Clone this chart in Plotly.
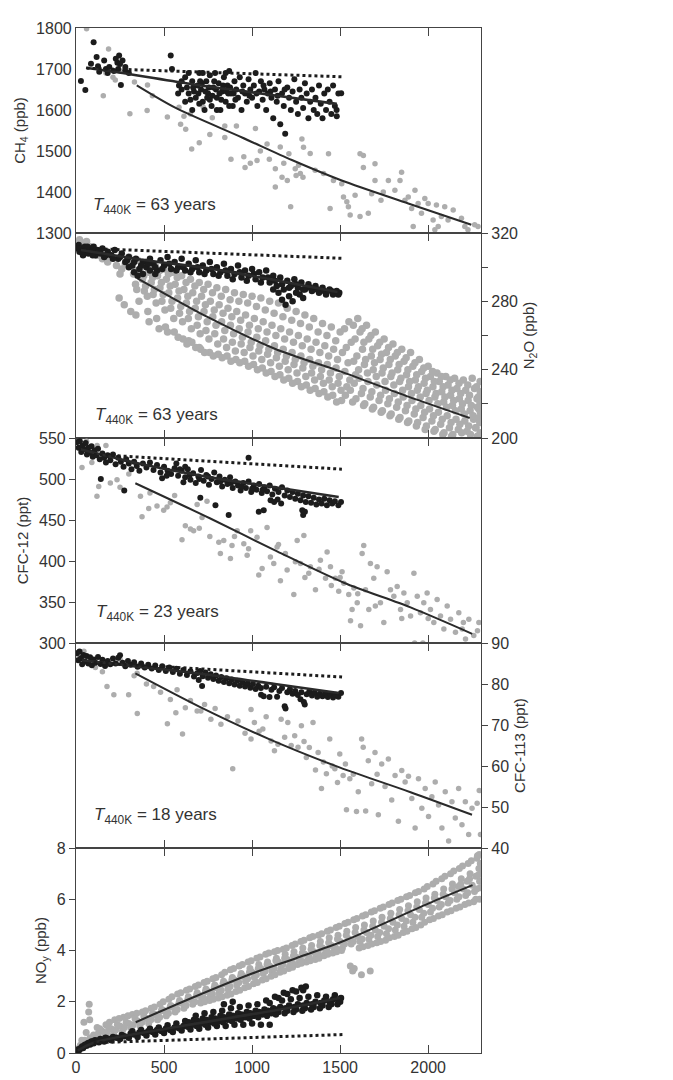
import plotly.graph_objects as go

# ---------------- DATA ----------------
X_RANGE = [0, 2300]
x_ticks = [0, 500, 1000, 1500, 2000]

# ---- CH4 panel ----
ch4_gray = [(60,1798),(185,1749),(155,1635),(223,1673),(306,1591),(332,1668),(404,1599),(434,1635),(406,1661),
            (519,1583),(585,1607),(594,1565),(623,1553),(657,1505),(613,1585),(723,1607),(774,1581),(845,1561),
            (845,1533),(911,1561),(953,1486),(1019,1555),(1028,1477),(1085,1517),(1132,1457),(1132,1412),(1160,1510),
            (1170,1436),(1200,1428),(1209,1493),(1219,1364),(1245,1457),(1264,1465),(1274,1445),(1283,1529),(1292,1509),
            (1289,1436),(1330,1494),(1358,1453),(1406,1445),(1434,1493),(1443,1360),(1462,1428),(1509,1420),(1519,1388),
            (1538,1376),(1547,1364),(1557,1344),(1585,1392),(1613,1493),(1632,1489),(1632,1460),(1613,1340),(1660,1348),
            (1679,1396),(1698,1469),(1698,1428),(1732,1380),(1745,1400),(1774,1428),(1811,1404),(1840,1428),(1849,1448),
            (1868,1380),(1887,1388),(1906,1360),(1925,1404),(1943,1372),(1962,1348),(1981,1384),(2000,1372),(2028,1332),
            (2047,1368),(2057,1316),(2075,1340),(2094,1364),(2113,1332),(2142,1356),(2189,1336),(2208,1316),(2226,1308),
            (2264,1320),(2283,1316),(1915,1316),(2038,1308),(170,1690),(210,1680),(250,1695),(1047,1500),(1098,1480),
            (990,1470),(960,1460),(880,1480),(760,1540),(700,1520),(650,1590),(1180,1470),(1250,1440)]
ch4_black = [(28,1671),(53,1649),(85,1713),(100,1765),(117,1729),(132,1693),(125,1707),(160,1721),(170,1700),(189,1705),
             (180,1690),(226,1725),(245,1733),(264,1721),(255,1661),(240,1700),(280,1695),(300,1690),(280,1705),(235,1715),
             (250,1712),(215,1695),(538,1733),(545,1700),(585,1660),(600,1650),(620,1680),(640,1640),(660,1670),(680,1630),
             (690,1660),(700,1690),(710,1650),(720,1620),(730,1600),(740,1670),(750,1640),(760,1685),(770,1610),(780,1655),
             (790,1690),(800,1630),(810,1665),(820,1600),(830,1645),(840,1680),(850,1620),(860,1660),(870,1695),(880,1640),
             (890,1610),(900,1670),(910,1650),(920,1630),(930,1680),(940,1600),(950,1660),(960,1640),(970,1620),(980,1675),
             (990,1650),(1000,1630),(1010,1660),(1020,1690),(1030,1610),(1040,1645),(1050,1670),(1060,1625),(1070,1650),
             (1080,1600),(1090,1640),(1100,1665),(1110,1630),(1120,1580),(1130,1650),(1140,1620),(1150,1670),(1160,1565),
             (1170,1640),(1180,1610),(1188,1542),(1200,1655),(1210,1630),(1220,1600),(1230,1645),(1240,1675),(1250,1620),
             (1260,1590),(1270,1650),(1280,1630),(1290,1605),(1300,1665),(1310,1640),(1320,1580),(1330,1620),(1340,1650),
             (1350,1600),(1360,1630),(1370,1590),(1380,1660),(1390,1615),(1400,1580),(1410,1640),(1420,1600),(1430,1650),
             (1440,1620),(1450,1590),(1460,1660),(1470,1610),(1480,1600),(1490,1640),(1506,1641),(1481,1585),(630,1655),
             (650,1625),(670,1645),(695,1640),(715,1665),(735,1645),(755,1655),(775,1635),(795,1650),(815,1640),(835,1660),
             (855,1645),(875,1655),(895,1640),(640,1690),(660,1600),(700,1615),(720,1690),(760,1625),(800,1600),(850,1690),
             (870,1610),(600,1670),(580,1640),(620,1620),(665,1655),(705,1670),(745,1630),(785,1670),(825,1625),(865,1640),
             (905,1625),(945,1645),(985,1635),(1025,1640),(1065,1660),(1105,1645),(1145,1635),(1185,1650)]
ch4_fit_gray_x = [345, 566, 943, 1226, 1509, 1887, 2245]
ch4_fit_gray_y = [1660, 1605, 1533, 1478, 1428, 1372, 1320]
ch4_fit_black_x = [57, 283, 660, 1038, 1481]
ch4_fit_black_y = [1703, 1689, 1663, 1641, 1615]
ch4_dot_x = [60, 1510]
ch4_dot_y = [1702, 1681]

# ---- N2O panel ----
n2o_gray = [(20,316),(40,314),(60,315),(80,312),(100,310),(120,307),(150,305),(180,303),(200,306),(230,301),(260,299),
            (280,302),(250,296),(245,282),(274,278),(311,274),(340,272),(415,268),(472,264),(640,257),(700,253),(520,262),
            (300,306),(313,301),(327,296),(338,290),
            (350,304),(363,298),(377,293),(388,286),(358,280),
            (400,303),(413,297),(427,291),(438,284),(408,274),
            (450,301),(463,295),(477,288),(488,280),(458,270),
            (500,299),(513,293),(527,285),(538,276),(508,265),
            (550,297),(563,290),(577,282),(588,273),(558,262),
            (600,295),(613,287),(627,279),(638,270),(608,258),
            (650,293),(663,285),(677,276),(688,266),(658,256),
            (700,291),(713,283),(727,274),(738,263),(708,252),
            (750,290),(763,280),(777,271),(788,261),(758,250),
            (800,288),(813,278),(827,268),(838,258),(808,249),
            (850,287),(863,276),(877,266),(888,256),(858,248),
            (900,285),(913,274),(927,264),(938,255),(908,246),
            (950,284),(963,272),(977,262),(988,253),(958,245),
            (1000,283),(1013,270),(1027,259),(1038,251),(1008,243),
            (1050,282),(1063,268),(1077,257),(1088,249),(1058,241),
            (1100,280),(1113,266),(1127,254),(1138,247),(1108,239),
            (1150,279),(1163,264),(1177,252),(1188,245),(1158,237),
            (1200,276),(1213,262),(1227,250),(1238,243),(1208,235),
            (1250,274),(1263,260),(1277,248),(1288,241),(1258,233),
            (1300,272),(1313,258),(1327,246),(1338,238),(1308,231),
            (1350,270),(1363,256),(1377,244),(1388,236),(1358,229),
            (1400,267),(1413,254),(1427,243),(1438,234),(1408,227),
            (1450,265),(1463,252),(1477,241),(1488,232),(1458,225),
            (1500,262),(1513,250),(1527,239),(1538,230),(1508,222),
            (1550,268),(1563,256),(1577,245),(1588,237),(1558,228),(1571,221),
            (1600,270),(1613,262),(1627,252),(1638,243),(1608,235),(1621,226),(1633,219),
            (1650,266),(1663,258),(1677,248),(1688,240),(1658,233),(1671,224),(1683,217),
            (1700,262),(1713,254),(1727,246),(1738,238),(1708,231),(1721,222),(1733,215),
            (1750,258),(1763,250),(1777,243),(1788,236),(1758,228),(1771,220),(1783,213),
            (1800,255),(1813,248),(1827,240),(1838,233),(1808,226),(1821,218),(1833,211),
            (1850,252),(1863,245),(1877,237),(1888,230),(1858,224),(1871,216),(1883,209),
            (1900,250),(1913,242),(1927,234),(1938,228),(1908,222),(1921,214),(1933,207),
            (1950,246),(1963,239),(1977,232),(1988,226),(1958,219),(1971,212),(1983,205),
            (2000,242),(2013,236),(2027,230),(2038,224),(2008,217),(2021,210),(2033,204),
            (2050,238),(2063,233),(2077,227),(2088,221),(2058,215),(2071,208),(2083,202),
            (2100,236),(2113,231),(2127,225),(2138,219),(2108,213),(2121,206),(2133,201),
            (2150,235),(2163,229),(2177,223),(2188,217),(2158,211),(2171,205),
            (2200,234),(2213,228),(2227,222),(2238,216),(2208,210),(2221,204),
            (2250,235),(2263,229),(2277,223),(2288,217),(2258,211),(2271,206),(2283,201),
            (2295,233),(2296,227),(2294,221),(2297,215),(2293,209),(2296,203),
            # in-between rows
            (325,303),(335,298),(345,287),
            (375,301),(385,295),(395,289),(405,283),
            (425,300),(435,294),(445,287),(455,279),
            (475,298),(485,291),(495,284),(505,275),
            (525,296),(535,289),(545,280),(555,270),
            (575,294),(585,286),(595,277),(605,268),(580,259),
            (625,291),(635,283),(645,274),(655,264),(630,255),
            (675,289),(685,280),(695,271),(705,261),(680,253),
            (725,287),(735,278),(745,268),(755,258),(730,250),
            (775,285),(785,275),(795,266),(805,255),(780,248),
            (825,283),(835,273),(845,263),(855,253),(830,247),
            (875,281),(885,271),(895,261),(905,251),(880,245),
            (925,280),(935,269),(945,259),(955,250),(930,244),
            (975,279),(985,266),(995,256),(1005,248),(980,242),
            (1025,277),(1035,264),(1045,254),(1055,246),(1030,240),
            (1075,275),(1085,262),(1095,252),(1105,244),(1080,238),
            (1125,273),(1135,260),(1145,250),(1155,242),(1130,236),
            (1175,271),(1185,258),(1195,248),(1205,240),(1180,234),
            (1225,269),(1235,256),(1245,246),(1255,238),(1230,232),
            (1275,267),(1285,254),(1295,244),(1305,236),(1280,230),
            (1325,265),(1335,252),(1345,242),(1355,234),(1330,228),
            (1375,262),(1385,250),(1395,240),(1405,232),(1380,226),
            (1425,260),(1435,248),(1445,238),(1455,230),(1430,224),
            (1475,257),(1485,246),(1495,236),(1505,228),(1480,221),
            (1525,264),(1535,253),(1545,244),(1555,234),(1530,225),
            (1575,266),(1585,258),(1595,248),(1605,240),(1580,232),(1590,223),
            (1625,264),(1635,256),(1645,246),(1655,238),(1630,229),(1640,220),
            (1675,260),(1685,252),(1695,244),(1705,236),(1680,227),(1690,218),
            (1725,256),(1735,249),(1745,241),(1755,233),(1730,225),(1740,216),
            (1775,253),(1785,246),(1795,238),(1805,231),(1780,223),(1790,214),
            (1825,250),(1835,243),(1845,235),(1855,228),(1830,221),(1840,212),
            (1875,247),(1885,240),(1895,233),(1905,226),(1880,219),(1890,210),
            (1925,244),(1935,237),(1945,230),(1955,224),(1930,217),(1940,209),
            (1975,241),(1985,235),(1995,228),(2005,222),(1980,215),(1990,207),
            (2025,239),(2035,233),(2045,226),(2055,220),(2030,213),(2040,205),
            (2075,236),(2085,230),(2095,224),(2105,218),(2080,211),(2090,203),
            (2125,234),(2135,228),(2145,222),(2155,216),(2130,209),(2140,202),
            (2175,232),(2185,226),(2195,220),(2205,214),(2180,208),(2190,203),
            (2225,231),(2235,225),(2245,219),(2255,213),(2230,207),(2240,202),
            (2275,230),(2285,224),(2280,218),(2290,212),(2270,206),(2280,201)]
n2o_black = [(15,313),(20,309),(30,311),(40,307),(50,312),(60,310),(70,308),(80,311),(90,309),(100,312),(110,307),
             (120,310),(140,308),(150,311),(160,306),(180,309),(200,307),(220,310),(240,305),(260,308),(280,303),(300,306),
             (320,301),(340,305),(360,299),(380,303),(400,300),(420,305),(440,302),(460,298),(480,304),(500,301),(520,306),
             (540,299),(560,303),(580,300),(600,305),(620,298),(640,302),(660,299),(680,304),(700,297),(720,301),(740,298),
             (760,303),(780,296),(800,300),(820,297),(840,302),(860,295),(880,299),(900,296),(920,301),(940,294),(960,298),
             (980,295),(1000,299),(1020,293),(1040,297),(1060,294),(1080,298),(1100,291),(1120,295),(1140,289),(1160,294),
             (1170,281),(1180,287),(1190,278),(1200,292),(1210,283),(1220,289),(1230,280),(1240,293),(1260,288),(1270,284),
             (1280,291),(1290,282),(1300,287),(1320,290),(1340,286),(1360,289),(1380,285),(1400,288),(1420,284),(1440,287),
             (1460,284),(1480,286),(1495,285),(330,297),(350,295),(380,296),(420,298),(450,296),(300,300),(1120,287),
             (1150,285),(1250,285),(10,311),(35,309),(65,312),(95,307),(130,309),(170,307),(210,305),(250,306),(290,304),
             (330,303),(370,301),(410,302),(450,300),(490,299),(530,302),(570,298),(610,300),(650,297),(690,300),(730,296),
             (770,299),(810,295),(850,298),(890,293),(930,297),(970,292),(1010,296),(1050,291),(1090,294),(1130,292),
             (1170,290),(1210,288),(1250,290),(1290,287),(1330,288),(1370,287),(1410,286),(1450,286),(1490,284)]
n2o_fit_gray_x = [349, 755, 1132, 1509, 1887, 2236]
n2o_fit_gray_y = [293.5, 270.4, 252.1, 238.7, 224.2, 211.7]
n2o_fit_black_x = [28, 400, 755, 1100, 1485]
n2o_fit_black_y = [310, 304, 299.3, 293, 285.5]
n2o_dot_x = [60, 1510]
n2o_dot_y = [311, 305.2]

# ---- CFC-12 panel ----
cfc12_gray = [(34,514),(60,546),(120,541),(170,541),(90,520),(129,491),(119,479),(195,495),(233,499),(366,479),(375,454),
              (413,464),(460,467),(498,462),(517,466),(536,471),(602,426),(621,443),(650,439),(668,437),(688,469),(716,453),
              (744,473),(811,423),(820,409),(839,425),(877,403),(886,419),(915,437),(953,421),(972,407),(992,437),(1028,429),
              (1038,383),(1057,391),(1085,441),(1104,405),(1123,397),(1142,417),(1161,376),(1189,409),(1199,389),(1237,359),
              (1246,399),(1256,425),(1275,397),(1294,431),(1322,385),(1331,393),(1360,365),(1388,401),(1417,379),(1426,411),
              (1445,393),(1473,379),(1492,363),(1511,387),(1521,373),(1549,359),(1568,341),(1578,367),(1597,349),(1616,321),
              (1625,409),(1634,419),(1644,365),(1663,341),(1672,397),(1691,379),(1710,393),(1729,349),(1748,325),(1767,387),
              (1786,365),(1805,357),(1824,369),(1843,341),(1862,361),(1881,349),(1900,333),(1919,385),(1938,357),(1956,337),
              (1975,349),(1994,361),(2013,341),(2032,325),(2051,353),(2070,333),(2089,317),(2108,345),(2127,329),(2155,313),
              (2174,337),(2193,317),(2212,305),(2231,329),(2259,309),(2288,325),(1923,300),(1970,300),(1559,327),(1500,380),
              (1380,390),(1300,380),(1150,420),(980,415),(900,430),(560,480),(300,506),(250,490),(420,483),(700,440),(760,430),
              (1450,370),(1600,360),(1700,345),(1850,330),(2000,330),(2200,325),(2280,315)]
cfc12_black = [(8,545),(15,538),(22,546),(30,533),(38,541),(45,536),(55,544),(62,530),(70,538),(80,532),(88,540),(95,527),
               (105,535),(115,529),(125,537),(135,524),(141,500),(150,531),(160,526),(170,520),(180,529),(195,523),(210,530),
               (225,518),(240,526),(255,521),(270,515),(274,486),(285,524),(300,519),(315,512),(330,521),(345,516),(360,510),
               (380,519),(400,514),(420,520),(440,511),(460,517),(480,508),(489,501),(500,515),(520,510),(540,506),(560,513),
               (580,504),(600,510),(610,496),(620,502),(635,512),(650,499),(665,507),(680,495),(695,503),(706,477),(710,511),
               (725,498),(740,505),(755,493),(770,500),(785,508),(792,468),(800,496),(815,503),(830,491),(845,499),(860,494),
               (867,456),(875,502),(890,489),(905,497),(920,492),(935,486),(950,495),(965,489),(980,497),(995,484),(1010,492),
               (1025,487),(1038,460),(1040,494),(1055,483),(1066,462),(1070,490),(1085,485),(1100,492),(1105,474),(1115,481),
               (1125,472),(1130,488),(1145,475),(1150,484),(1165,470),(1170,490),(1185,480),(1200,486),(1215,478),(1230,484),
               (1245,476),(1260,482),(1275,474),(1285,462),(1290,456),(1290,480),(1300,460),(1305,472),(1320,479),(1335,471),
               (1350,477),(1365,469),(1380,475),(1395,470),(1410,476),(1425,468),(1440,474),(1455,470),(1470,473),(1490,468),
               (1505,472),(980,526),(570,519),(620,515),(515,504),(590,512),(645,505),(700,500),(750,503),(820,497),(880,495),
               (940,491),(1000,488),(1060,487)]
cfc12_fit_gray_x = [337, 763, 1142, 1521, 1900, 2250]
cfc12_fit_gray_y = [494.8, 451.8, 411.7, 373.5, 343.4, 311.2]
cfc12_fit_black_x = [28, 377, 763, 1130, 1492]
cfc12_fit_black_y = [536, 518, 502, 490, 478]
cfc12_dot_x = [100, 1510]
cfc12_dot_y = [530, 512]

# ---- CFC-113 panel ----
cfc113_gray = [(20,86.5),(45,88.0),(110,84.0),(150,83.0),(176,79.4),(215,77.4),(250,86.0),(299,77.4),(330,82.0),(347,82.6),
               (348,72.8),(400,80.0),(441,79.4),(480,78.0),(519,70.3),(536,76.2),(567,73.0),(574,78.6),(605,67.8),(621,74.2),
               (650,76.0),(688,73.4),(709,73.4),(730,75.0),(766,71.4),(790,74.0),(823,70.2),(860,72.0),(890,59.3),(920,71.0),
               (960,68.0),(994,73.8),(994,66.6),(1013,70.6),(1040,68.5),(1061,69.0),(1080,72.0),(1108,66.1),(1127,63.7),
               (1147,65.3),(1165,71.4),(1185,67.0),(1203,70.6),(1222,65.0),(1242,67.4),(1261,64.6),(1280,69.8),(1295,66.0),
               (1308,62.1),(1325,64.5),(1346,70.6),(1360,59.0),(1375,63.3),(1394,54.5),(1405,61.0),(1422,58.1),(1441,66.6),
               (1455,60.0),(1470,59.3),(1485,56.0),(1498,62.9),(1517,57.7),(1530,60.5),(1536,49.3),(1555,56.9),(1575,58.0),
               (1593,48.9),(1603,53.7),(1622,66.6),(1631,64.6),(1645,49.0),(1660,61.3),(1679,55.7),(1698,63.3),(1710,58.0),
               (1717,48.1),(1736,60.5),(1755,55.0),(1774,61.7),(1793,51.7),(1812,57.7),(1831,46.5),(1850,58.9),(1869,56.1),
               (1888,57.5),(1907,52.1),(1926,44.9),(1945,56.9),(1964,49.7),(1983,54.5),(2002,47.7),(2021,52.5),(2040,56.1),
               (2059,50.5),(2078,44.9),(2097,53.7),(2116,41.7),(2135,51.3),(2154,47.3),(2173,54.5),(2192,45.7),(2211,51.3),
               (2230,43.3),(2249,49.7),(2278,50.9),(2297,43.3),(2290,54.0)]
cfc113_black = [(5,87.5),(12,85.8),(20,87.9),(28,86.3),(35,84.8),(42,87.1),(50,85.5),(60,86.8),(70,85.0),(80,86.5),(90,84.6),
                (100,86.0),(110,85.2),(125,86.6),(140,84.9),(150,85.9),(165,84.4),(180,85.6),(195,84.8),(210,86.2),(225,85.0),
                (240,86.4),(250,87.0),(265,85.2),(280,84.3),(295,85.6),(310,84.7),(330,85.3),(350,84.2),(370,85.0),(390,84.0),
                (410,84.7),(430,83.8),(450,84.5),(470,83.4),(490,84.3),(510,83.2),(530,84.0),(550,82.9),(570,83.7),(590,82.5),
                (610,83.4),(630,82.2),(650,83.1),(670,81.8),(690,82.7),(697,81.0),(705,83.2),(716,79.5),(720,81.9),(735,82.8),
                (750,81.5),(765,82.4),(780,81.2),(795,82.1),(810,80.8),(825,81.7),(840,80.5),(855,81.4),(870,80.2),(885,81.1),
                (900,79.9),(915,80.8),(930,79.6),(945,80.5),(960,79.4),(975,80.2),(990,79.1),(1005,80.0),(1020,78.8),(1035,79.6),
                (1051,77.4),(1050,79.0),(1066,77.0),(1080,79.3),(1099,76.8),(1110,78.6),(1125,79.2),(1142,76.9),(1155,78.3),
                (1170,79.0),(1185,74.6),(1190,74.0),(1200,78.0),(1215,78.7),(1230,77.6),(1245,78.3),(1260,77.3),(1275,76.3),
                (1280,78.0),(1294,75.6),(1299,75.0),(1310,77.5),(1325,78.2),(1340,77.2),(1355,77.9),(1370,76.9),(1385,77.6),
                (1400,77.0),(1415,77.8),(1430,76.8),(1445,77.5),(1460,76.7),(1475,77.4),(1490,76.9),(1505,77.8)]
cfc113_fit_gray_x = [337, 700, 1100, 1500, 1900, 2249]
cfc113_fit_gray_y = [82.6, 74.5, 66.5, 59.6, 53.6, 48.1]
cfc113_fit_black_x = [34, 400, 763, 1130, 1492]
cfc113_fit_black_y = [85.8, 84.0, 82.2, 80.0, 77.8]
cfc113_dot_x = [100, 1511]
cfc113_dot_y = [85.2, 81.7]

# ---- NOy panel ----
noy_gray = [(0,0.05),(8,0.15),(25,0.3),(33,0.5),(20,0.2),(50,0.5),(58,0.8),(45,1.2),(62,0.35),
            (75,1.9),(72,1.6),(78,1.3),(80,0.6),(70,0.45),(100,0.7),(113,0.55),(120,1.0),
            (150,0.85),(163,0.65),(170,1.1),(200,0.95),(213,0.75),(220,1.3),(250,1.05),(263,0.85),(270,1.4),
            (300,1.15),(313,0.95),(320,1.5),(350,1.25),(363,1.05),(377,1.6),(388,1.4),
            (400,1.35),(413,1.15),(427,1.75),(438,1.5),(450,1.5),(463,1.3),(477,1.9),(488,1.7),
            (500,1.65),(513,1.45),(527,2.1),(538,1.85),(550,1.8),(563,1.6),(577,2.3),(588,2.05),
            (600,1.95),(613,1.75),(627,2.45),(638,2.2),(650,2.1),(663,1.9),(677,2.6),(688,2.35),
            (700,2.25),(713,2.05),(727,2.75),(738,2.5),(708,1.95),(750,2.4),(763,2.2),(777,2.9),(788,2.65),(758,2.05),
            (800,2.55),(813,2.35),(827,3.05),(838,2.8),(808,2.15),(850,2.7),(863,2.5),(877,3.25),(888,2.95),(858,2.25),
            (900,2.85),(913,2.65),(927,3.4),(938,3.1),(908,2.4),(950,3.0),(963,2.8),(977,3.55),(988,3.3),(958,2.55),
            (1000,3.15),(1013,2.95),(1027,3.7),(1038,3.45),(1008,2.7),(1050,3.3),(1063,3.1),(1077,3.85),(1088,3.55),(1058,2.85),
            (1100,3.4),(1113,3.2),(1127,3.95),(1138,3.7),(1108,3.0),(1150,3.55),(1163,3.3),(1177,4.05),(1188,3.85),(1158,3.15),
            (1200,3.65),(1213,3.4),(1227,4.2),(1238,3.95),(1208,3.3),(1250,3.75),(1263,3.5),(1277,4.35),(1288,4.1),(1258,3.45),
            (1300,3.85),(1313,3.6),(1327,4.5),(1338,4.2),(1308,3.55),(1350,3.95),(1363,3.75),(1377,4.6),(1388,4.35),(1358,3.65),
            (1400,4.1),(1413,3.85),(1427,4.75),(1438,4.5),(1408,3.8),(1450,4.2),(1463,3.95),(1477,4.9),(1488,4.6),(1458,3.9),
            (1500,4.35),(1513,4.1),(1527,5.05),(1538,4.75),(1508,4.0),
            (1550,4.45),(1563,4.25),(1577,5.2),(1588,4.9),(1558,3.4),(1571,3.2),
            (1600,4.55),(1613,4.35),(1627,5.35),(1638,5.0),(1608,4.1),(1621,3.05),
            (1650,4.7),(1663,4.45),(1677,5.5),(1688,5.15),(1658,4.2),(1671,3.2),
            (1700,4.8),(1713,4.55),(1727,5.65),(1738,5.3),(1708,4.3),(1750,4.95),(1763,4.65),(1777,5.8),(1788,5.45),(1758,4.4),
            (1800,5.1),(1813,4.8),(1827,5.95),(1838,5.6),(1808,4.55),(1850,5.25),(1863,4.95),(1877,6.1),(1888,5.75),(1858,4.7),
            (1900,5.4),(1913,5.1),(1927,6.25),(1938,5.9),(1908,4.85),(1950,5.6),(1963,5.3),(1977,6.4),(1988,6.05),(1958,5.0),
            (2000,5.8),(2013,5.5),(2027,6.6),(2038,6.2),(2008,5.2),(2050,5.95),(2063,5.7),(2077,6.8),(2088,6.4),(2058,5.35),
            (2100,6.1),(2113,5.85),(2127,7.0),(2138,6.6),(2108,5.5),
            (2150,6.25),(2163,6.0),(2177,7.2),(2188,6.8),(2158,5.65),(2171,6.5),
            (2200,6.4),(2213,6.15),(2227,7.4),(2238,7.0),(2208,5.8),(2221,6.7),
            (2250,6.55),(2263,6.3),(2277,7.6),(2288,7.2),(2258,5.9),(2271,6.9),
            (2292,6.7),(2295,6.45),(2290,7.75),(2296,7.4),(2293,6.0),(2297,7.0),
            # in-between rows
            (125,0.75),(135,0.95),(175,0.8),(185,1.0),(190,1.2),(225,0.9),(235,1.1),(245,1.35),
            (275,1.0),(285,1.2),(295,1.45),(325,1.1),(335,1.35),(345,1.55),(375,1.2),(385,1.45),(395,1.65),
            (425,1.3),(435,1.55),(445,1.8),(475,1.4),(485,1.65),(495,2.0),(525,1.55),(535,1.8),(545,2.2),
            (575,1.7),(585,1.95),(595,2.35),(625,1.85),(635,2.1),(645,2.5),(675,2.0),(685,2.25),(695,2.65),
            (725,2.15),(735,2.4),(745,2.8),(730,2.0),(775,2.3),(785,2.55),(795,2.95),(780,2.1),
            (825,2.45),(835,2.7),(845,3.15),(830,2.2),(875,2.6),(885,2.85),(895,3.3),(880,2.3),
            (925,2.75),(935,3.0),(945,3.45),(930,2.45),(975,2.9),(985,3.15),(995,3.6),(980,2.6),
            (1025,3.05),(1035,3.3),(1045,3.75),(1030,2.75),(1075,3.2),(1085,3.45),(1095,3.9),(1080,2.9),
            (1125,3.3),(1135,3.6),(1145,4.0),(1130,3.05),(1175,3.45),(1185,3.7),(1195,4.1),(1180,3.2),
            (1225,3.55),(1235,3.8),(1245,4.25),(1230,3.35),(1275,3.65),(1285,3.9),(1295,4.4),(1280,3.5),
            (1325,3.75),(1335,4.05),(1345,4.55),(1330,3.6),(1375,3.9),(1385,4.2),(1395,4.65),(1380,3.7),
            (1425,4.0),(1435,4.3),(1445,4.8),(1430,3.85),(1475,4.1),(1485,4.45),(1495,4.95),(1480,3.95),
            (1525,4.25),(1535,4.6),(1545,5.1),(1575,4.35),(1585,4.7),(1595,5.25),(1580,3.3),
            (1625,4.45),(1635,4.8),(1645,5.4),(1630,4.15),(1675,4.6),(1685,4.95),(1695,5.55),(1680,4.25),
            (1725,4.7),(1735,5.1),(1745,5.7),(1730,4.35),(1775,4.85),(1785,5.25),(1795,5.85),(1780,4.5),
            (1825,5.0),(1835,5.4),(1845,6.0),(1830,4.6),(1875,5.15),(1885,5.55),(1895,6.15),(1880,4.75),
            (1925,5.3),(1935,5.7),(1945,6.3),(1930,4.9),(1975,5.45),(1985,5.85),(1995,6.5),(1980,5.1),
            (2025,5.65),(2035,6.05),(2045,6.7),(2030,5.25),(2075,5.8),(2085,6.2),(2095,6.9),(2080,5.4),
            (2125,5.95),(2135,6.4),(2145,7.1),(2130,5.55),(2175,6.1),(2185,6.6),(2195,7.3),(2180,5.7),
            (2225,6.25),(2235,6.8),(2245,7.5),(2230,5.85),(2275,6.4),(2285,6.95),(2280,7.7),(2270,6.0)]
noy_black = [(0,0.02),(8,0.08),(20,0.12),(28,0.2),(40,0.2),(48,0.3),(60,0.28),(68,0.38),(80,0.33),(88,0.45),(100,0.38),
             (108,0.5),(130,0.42),(138,0.55),(160,0.45),(168,0.6),(200,0.5),(210,0.62),(250,0.55),(260,0.7),
             (300,0.6),(310,0.75),(320,0.85),(350,0.62),(360,0.8),(370,0.9),(400,0.68),(410,0.85),(420,0.95),
             (450,0.72),(460,0.9),(470,1.0),(500,0.78),(510,0.95),(520,1.08),(550,0.82),(560,1.0),(570,1.15),
             (600,0.88),(610,1.05),(620,1.25),(650,0.92),(660,1.1),(670,1.3),(680,1.45),(700,0.95),(710,1.15),(720,1.35),
             (730,1.55),(750,1.0),(760,1.2),(770,1.4),(780,1.6),(800,1.05),(810,1.25),(820,1.45),(830,1.65),(840,1.9),
             (850,1.05),(860,1.3),(870,1.5),(880,1.75),(890,2.0),(900,1.1),(910,1.35),(920,1.55),(930,1.8),
             (950,1.1),(960,1.4),(970,1.6),(980,1.85),(1000,1.15),(1010,1.45),(1020,1.65),(1030,1.9),
             (1050,1.1),(1060,1.5),(1070,1.7),(1080,2.05),(1100,1.1),(1110,1.55),(1120,1.75),(1130,2.2),
             (1150,1.6),(1160,1.8),(1170,2.05),(1180,2.35),(1200,1.65),(1210,1.85),(1220,2.1),(1230,2.45),
             (1250,1.7),(1260,1.9),(1270,2.15),(1280,2.55),(1300,1.75),(1310,1.95),(1320,2.2),(1305,2.6),
             (1350,1.8),(1360,2.0),(1370,2.25),(1400,1.85),(1410,2.05),(1420,2.2),(1450,1.9),(1460,2.1),(1470,2.25),
             (1500,2.0),(1505,2.15),
             (15,0.15),(35,0.25),(55,0.33),(75,0.4),(95,0.45),(120,0.48),(150,0.52),(185,0.56),(230,0.6),(275,0.65),
             (330,0.72),(385,0.78),(435,0.82),(485,0.86),(535,0.9),(585,0.97),(635,1.02),(685,1.05),(735,1.1),
             (785,1.15),(835,1.2),(885,1.25),(935,1.3),(985,1.35),(1035,1.4),(1085,1.45),(1135,1.5),(1185,1.55),
             (1235,1.6),(1285,1.65),(1335,1.7),(1385,1.75),(1435,1.8),(1485,1.9),
             (640,1.2),(690,1.25),(740,1.3),(790,1.35),(840,1.4),(890,1.45),(940,1.5),(990,1.55),(1040,1.6),
             (1090,1.65),(1140,1.7),(1190,1.75),(1240,1.8),(1290,1.85),(1340,1.9),(1390,1.95),(1440,2.0),(1490,2.05),
             (1100,1.95),(1150,2.15),(1200,2.3),(1250,2.4),(1290,2.45)]
noy_fit_gray_x = [339, 600, 1000, 1250, 1530, 2000, 2252]
noy_fit_gray_y = [1.20, 1.98, 3.10, 3.70, 4.40, 5.83, 6.55]
noy_fit_black_x = [10, 100, 300, 600, 900, 1200, 1500]
noy_fit_black_y = [0.1, 0.4, 0.7, 1.05, 1.4, 1.75, 2.15]
noy_dot_x = [100, 1513]
noy_dot_y = [0.40, 0.72]

# ---------------- FIGURE ----------------
GRAY = "#adadad"
BLACK = "#1c1c1c"
LINE = "#2a2a2a"
FONT = "Liberation Sans, Arial, Helvetica, sans-serif"

panels = [
    dict(gray=ch4_gray, black=ch4_black, fg=(ch4_fit_gray_x, ch4_fit_gray_y), fb=(ch4_fit_black_x, ch4_fit_black_y),
         dot=(ch4_dot_x, ch4_dot_y), gs=5.5, bs=6, range=[1300, 1800], side="left",
         tickvals=[1300, 1400, 1500, 1600, 1700, 1800], minor=None, ticks="",
         title="CH<sub>4</sub> (ppb)", ann=(85, 1365, "63")),
    dict(gray=n2o_gray, black=n2o_black, fg=(n2o_fit_gray_x, n2o_fit_gray_y), fb=(n2o_fit_black_x, n2o_fit_black_y),
         dot=(n2o_dot_x, n2o_dot_y), gs=7.5, bs=6.5, range=[200, 320], side="right",
         tickvals=[200, 240, 280, 320], minor=[220, 260, 300], ticks="outside",
         title="N<sub>2</sub>O (ppb)", ann=(95, 213, "63")),
    dict(gray=cfc12_gray, black=cfc12_black, fg=(cfc12_fit_gray_x, cfc12_fit_gray_y), fb=(cfc12_fit_black_x, cfc12_fit_black_y),
         dot=(cfc12_dot_x, cfc12_dot_y), gs=5.5, bs=6, range=[300, 550], side="left",
         tickvals=[300, 350, 400, 450, 500, 550], minor=None, ticks="outside",
         title="CFC-12 (ppt)", ann=(100, 337, "23")),
    dict(gray=cfc113_gray, black=cfc113_black, fg=(cfc113_fit_gray_x, cfc113_fit_gray_y), fb=(cfc113_fit_black_x, cfc113_fit_black_y),
         dot=(cfc113_dot_x, cfc113_dot_y), gs=5.5, bs=6, range=[40, 90], side="right",
         tickvals=[40, 50, 60, 70, 80, 90], minor=None, ticks="outside",
         title="CFC-113 (ppt)", ann=(91, 47.7, "18")),
    dict(gray=noy_gray, black=noy_black, fg=(noy_fit_gray_x, noy_fit_gray_y), fb=(noy_fit_black_x, noy_fit_black_y),
         dot=(noy_dot_x, noy_dot_y), gs=7, bs=6.5, range=[0, 8], side="left",
         tickvals=[0, 2, 4, 6, 8], minor=None, ticks="outside",
         title="NO<sub>y</sub> (ppb)", ann=None),
]

fig = go.Figure()
layout = dict(width=673, height=1080, margin=dict(l=68, r=200, t=19, b=23),
              paper_bgcolor="white", plot_bgcolor="white", showlegend=False,
              font=dict(family=FONT, size=15, color="#333"), annotations=[])

for i, p in enumerate(panels, start=1):
    xa = "x" if i == 1 else f"x{i}"
    ya = "y" if i == 1 else f"y{i}"
    gx, gy = zip(*p["gray"])
    bx, by = zip(*p["black"])
    fig.add_trace(go.Scatter(x=gx, y=gy, mode="markers", xaxis=xa, yaxis=ya, hoverinfo="skip",
                             marker=dict(size=p["gs"], color=GRAY, line=dict(width=0))))
    fig.add_trace(go.Scatter(x=p["fg"][0], y=p["fg"][1], mode="lines", xaxis=xa, yaxis=ya,
                             line=dict(color=LINE, width=2, shape="spline", smoothing=0.8)))
    fig.add_trace(go.Scatter(x=bx, y=by, mode="markers", xaxis=xa, yaxis=ya, hoverinfo="skip",
                             marker=dict(size=p["bs"], color=BLACK, line=dict(width=0))))
    fig.add_trace(go.Scatter(x=p["fb"][0], y=p["fb"][1], mode="lines", xaxis=xa, yaxis=ya,
                             line=dict(color=LINE, width=2.6, shape="spline", smoothing=0.8)))
    fig.add_trace(go.Scatter(x=p["dot"][0], y=p["dot"][1], mode="lines", xaxis=xa, yaxis=ya,
                             line=dict(color=BLACK, width=3, dash="dot")))

    lo = (5 - i) * 0.2
    hi = (6 - i) * 0.2
    xkey = "xaxis" if i == 1 else f"xaxis{i}"
    ykey = "yaxis" if i == 1 else f"yaxis{i}"
    layout[xkey] = dict(domain=[0, 1], anchor=ya, range=X_RANGE, tickvals=x_ticks,
                        ticks="inside", ticklen=8, tickwidth=1.3, tickcolor="#444",
                        showline=True, linecolor="#444", linewidth=1.2, mirror="ticks",
                        showgrid=False, zeroline=False, showticklabels=(i == 5),
                        tickfont=dict(size=16, color="#333"))
    yax = dict(domain=[lo, hi], anchor=xa, range=p["range"], side=p["side"], tickvals=p["tickvals"],
               ticks=p["ticks"], ticklen=6, tickwidth=1.3, tickcolor="#444",
               showline=True, linecolor="#444", linewidth=1.2, mirror=True,
               showgrid=False, zeroline=False, tickfont=dict(size=16, color="#333"),
               title=dict(text=p["title"], font=dict(size=15, color="#333"), standoff=6))
    if p["minor"] is not None:
        yax["minor"] = dict(tickmode="array", tickvals=p["minor"], ticks="outside", ticklen=6,
                            tickwidth=1.3, tickcolor="#444", showgrid=False)
    layout[ykey] = yax

    if p["ann"] is not None:
        ax, ay, yrs = p["ann"]
        layout["annotations"].append(dict(
            x=ax, y=ay, xref=xa, yref=ya, xanchor="left", yanchor="middle", showarrow=False,
            text=f"<i>T</i><sub>440K</sub> = {yrs} years", font=dict(size=17, color="#333", family=FONT)))

fig.update_layout(**layout)
fig.write_html("out.html")
